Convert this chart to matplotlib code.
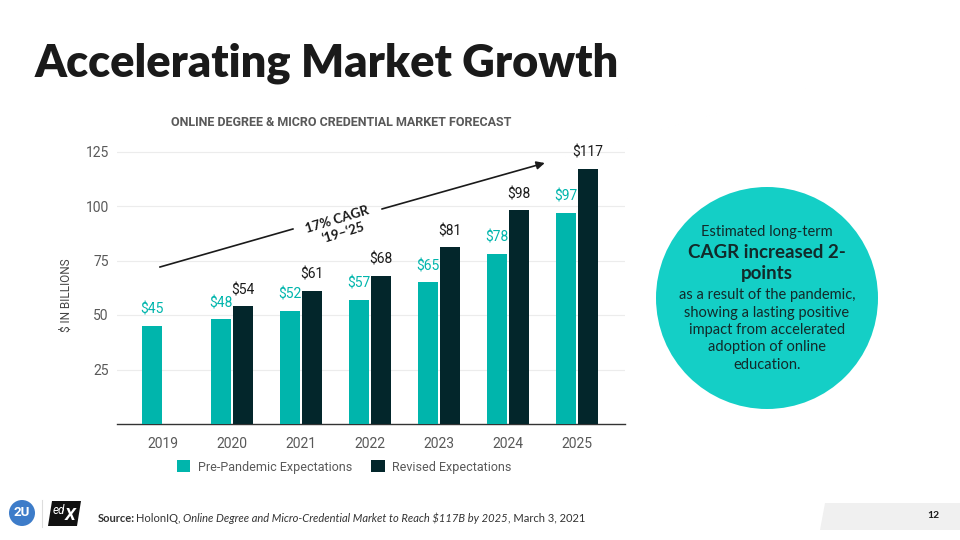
import matplotlib
matplotlib.use("Agg")
import matplotlib.pyplot as plt
from matplotlib.patches import Circle, Polygon, Patch

# ---- data ----
years = ["2019", "2020", "2021", "2022", "2023", "2024", "2025"]
pre_pandemic = [45, 48, 52, 57, 65, 78, 97]
revised = [None, 54, 61, 68, 81, 98, 117]
yticks = [25, 50, 75, 100, 125]
series_names = ["Pre-Pandemic Expectations", "Revised Expectations"]

TEAL = "#00B5AC"
DARK = "#03262B"
CIRCLE = "#14CFC6"
GRAY = "#595959"

W, H = 960, 540
fig = plt.figure(figsize=(9.6, 5.4), dpi=100)
fig.patch.set_facecolor("white")

def fx(px):
    return px / W

def fy(py):
    return 1 - py / H

# axes placement (pixel geometry)
ax = fig.add_axes([fx(117), fy(424), (625 - 117) / W, (424 - 140.6) / H])
ax.set_xlim(-0.667, 6.70)
ax.set_ylim(0, 130)

bw = 0.29
off = 0.158
xs = list(range(len(years)))
for i, v in enumerate(pre_pandemic):
    ax.bar(i - off, v, width=bw, color=TEAL, zorder=3)
    ax.annotate(f"${v}", xy=(i - off, v), xytext=(0, 6.5), textcoords="offset points",
                ha="center", va="bottom", color=TEAL, fontsize=10, family="Roboto")
for i, v in enumerate(revised):
    if v is None:
        continue
    ax.bar(i + off, v, width=bw, color=DARK, zorder=3)
    ax.annotate(f"${v}", xy=(i + off, v), xytext=(0, 6.5), textcoords="offset points",
                ha="center", va="bottom", color="#1a1a1a", fontsize=10, family="Roboto")

ax.set_xticks(xs)
ax.set_xticklabels(years, family="Roboto", fontsize=10, color=GRAY)
ax.set_yticks(yticks)
ax.set_yticklabels([str(t) for t in yticks], family="Roboto", fontsize=10, color=GRAY)
ax.tick_params(axis="both", length=0)
ax.tick_params(axis="x", pad=9)
ax.tick_params(axis="y", pad=6)
ax.grid(axis="y", color="#ececec", lw=0.8, zorder=0)
for s in ["top", "right", "left"]:
    ax.spines[s].set_visible(False)
ax.spines["bottom"].set_color("#333333")
ax.spines["bottom"].set_linewidth(1.0)

# CAGR arrow (two segments with a gap for the label)
def d(px, py):
    return ((px - 163) / 69.0, (424 - py) / 2.18)

p0, p1, p2, p3 = d(160, 267), d(293, 229), d(382, 209), d(545, 163)
ax.plot([p0[0], p1[0]], [p0[1], p1[1]], color="#1a1a1a", lw=1.2, zorder=4)
ax.annotate("", xy=p3, xytext=p2,
            arrowprops=dict(arrowstyle="-|>", color="#1a1a1a", lw=1.2,
                            mutation_scale=12, shrinkA=0, shrinkB=0), zorder=4)
t1 = d(337, 220)
ax.text(t1[0], t1[1], "17% CAGR", rotation=17, ha="center", va="center",
        fontsize=9.5, fontweight="bold", family="Lato", color="#1a1a1a",
        rotation_mode="anchor")
t2 = d(343, 233)
ax.text(t2[0], t2[1], "\u201819\u2013\u201825", rotation=17, ha="center", va="center",
        fontsize=9.5, fontweight="bold", family="Lato", color="#1a1a1a",
        rotation_mode="anchor")

# axis label
fig.text(fx(66), fy(295), "$ IN BILLIONS", rotation=90, ha="center", va="center",
         fontsize=8.5, family="Roboto", color="#444444")

# chart title
fig.text(fx(341), fy(123), "ONLINE DEGREE & MICRO CREDENTIAL MARKET FORECAST",
         ha="center", va="center", fontsize=9, fontweight="bold", family="Roboto",
         color=GRAY)

# slide title
fig.text(fx(35), fy(63), "Accelerating Market Growth", ha="left", va="center",
         fontsize=32.5, fontweight="heavy", family="Lato", color="#1a1a1a")

# legend
handles = [Patch(facecolor=TEAL, edgecolor="none"), Patch(facecolor=DARK, edgecolor="none")]
leg = fig.legend(handles, series_names, loc="center", bbox_to_anchor=(fx(344), fy(467)),
                 ncol=2, frameon=False, handlelength=1.1, handleheight=1.1,
                 columnspacing=1.5, handletextpad=0.6,
                 prop={"family": "Roboto", "size": 9})
for t in leg.get_texts():
    t.set_color(GRAY)

# circle callout (drawn in pixel space so it stays round)
fig.patches.append(Circle((767, H - 298), radius=111, transform=None,
                          facecolor=CIRCLE, edgecolor="none"))
lines = [
    (232, "Estimated long-term", "normal", 10.5),
    (252, "CAGR increased 2-", "bold", 13.5),
    (274, "points", "bold", 13.5),
    (295, "as a result of the pandemic,", "normal", 10.5),
    (313, "showing a lasting positive", "normal", 10.5),
    (330, "impact from accelerated", "normal", 10.5),
    (347, "adoption of online", "normal", 10.5),
    (365, "education.", "normal", 10.5),
]
for py, txt, wt, sz in lines:
    fig.text(fx(767), fy(py), txt, ha="center", va="center", fontsize=sz,
             fontweight=wt, family="Lato", color="#122a2a")

# footer: logos, source, page number
fig.patches.append(Circle((22, H - 513), radius=13, transform=None,
                          facecolor="#3D7CC9", edgecolor="none"))
fig.text(fx(22), fy(513), "2U", ha="center", va="center", fontsize=9.5,
         fontweight="bold", family="Roboto", color="white")
fig.lines.append(plt.Line2D([fx(42), fx(42)], [fy(500), fy(527)], transform=fig.transFigure,
                            color="#dddddd", lw=0.8))
fig.patches.append(Polygon([[fx(52), fy(501)], [fx(81), fy(501)], [fx(77), fy(526)],
                            [fx(48), fy(526)]], closed=True, transform=fig.transFigure,
                           facecolor="#111111", edgecolor="none"))
fig.text(fx(59), fy(510), "ed", ha="center", va="center", fontsize=8.5, style="italic",
         family="Roboto", color="white")
fig.text(fx(70), fy(515), "X", ha="center", va="center", fontsize=12.5, style="italic",
         fontweight="bold", family="Roboto", color="white")

fig.text(fx(98), fy(518), "Source:", ha="left", va="center", fontsize=8,
         fontweight="bold", family="Lato", color="#333333")
parts = [("HolonIQ, ", "normal"),
         ("Online Degree and Micro-Credential Market to Reach $117B by 2025", "italic"),
         (", March 3, 2021", "normal")]
fig.canvas.draw()
renderer = fig.canvas.get_renderer()
x_cur = 136
for txt, st in parts:
    t = fig.text(fx(x_cur), fy(518), txt, ha="left", va="center", fontsize=8,
                 style=st, family="Lato", color="#333333")
    bb = t.get_window_extent(renderer=renderer)
    x_cur += bb.width

fig.patches.append(Polygon([[fx(825), fy(503)], [fx(960), fy(503)], [fx(960), fy(530)],
                            [fx(820), fy(530)]], closed=True, transform=fig.transFigure,
                           facecolor="#f0f0f0", edgecolor="none"))
fig.text(fx(933), fy(515), "12", ha="center", va="center", fontsize=7.5,
         fontweight="bold", family="Lato", color="#1a1a1a")

fig.savefig("out.png", dpi=100)
